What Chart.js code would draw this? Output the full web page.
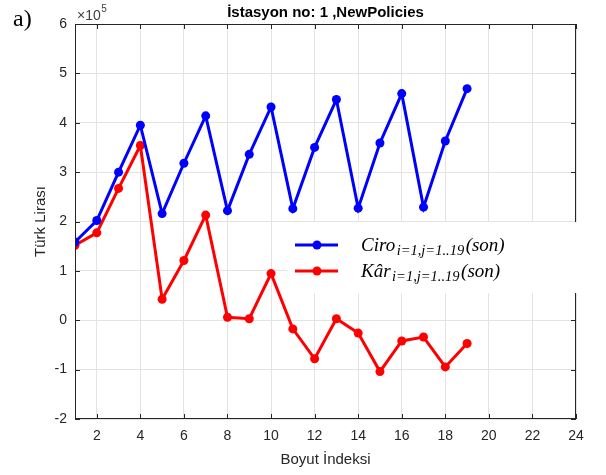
<!DOCTYPE html>
<html lang="tr">
<head>
    <meta charset="UTF-8">
    <title>İstasyon no: 1 ,NewPolicies</title>
    <style>
        * {
            margin: 0;
            padding: 0;
            box-sizing: border-box;
        }

        body {
            background: #fff;
        }

        .chart-box {
            position: relative;
            width: 606px;
            height: 475px;
        }
    </style>
</head>
<body>
    <div class="chart-box">
        <canvas id="stationChart"></canvas>
    </div>

    <script src="https://cdn.jsdelivr.net/npm/chart.js"></script>
    <script>
        // Boyut indeksleri ve seriler (TL)
        var indices = [1, 2, 3, 4, 5, 6, 7, 8, 9, 10, 11, 12, 13, 14, 15, 16, 17, 18, 19];
        var ciro = [158500, 202000, 300000, 395000, 216000, 318000, 414000, 222000, 336000, 432000,
                    226000, 350000, 447000, 227000, 359000, 459000, 229000, 363000, 469000];
        var kar = [152000, 177000, 267000, 354000, 42500, 121000, 213000, 6000, 3000, 94500,
                   -17500, -78000, 3000, -26000, -104000, -42000, -34000, -94500, -47000];
        var xTicks = [2, 4, 6, 8, 10, 12, 14, 16, 18, 20, 22, 24];
        var yTicks = [-200000, -100000, 0, 100000, 200000, 300000, 400000, 500000, 600000];

        var axisColor = '#262626';
        var gridColor = '#e3e3e3';

        function toPoints(values) {
            return values.map(function (v, i) { return { x: indices[i], y: v }; });
        }

        // Çerçeve, içe dönük tik çizgileri, başlık ve açıklama kutusu
        var decorations = {
            id: 'decorations',
            afterDraw: function (chart) {
                var ctx = chart.ctx;
                var a = chart.chartArea;
                var xs = chart.scales.x, ys = chart.scales.y;
                var tick = 5;

                ctx.save();
                ctx.strokeStyle = axisColor;
                ctx.lineWidth = 1;
                ctx.strokeRect(a.left + 0.5, a.top + 0.5, a.right - a.left - 1, a.bottom - a.top - 1);

                ctx.beginPath();
                xTicks.forEach(function (t) {
                    var px = Math.round(xs.getPixelForValue(t)) + 0.5;
                    ctx.moveTo(px, a.bottom); ctx.lineTo(px, a.bottom - tick);
                    ctx.moveTo(px, a.top); ctx.lineTo(px, a.top + tick);
                });
                yTicks.forEach(function (t) {
                    var py = Math.round(ys.getPixelForValue(t)) + 0.5;
                    ctx.moveTo(a.left, py); ctx.lineTo(a.left + tick, py);
                    ctx.moveTo(a.right, py); ctx.lineTo(a.right - tick, py);
                });
                ctx.stroke();

                // başlık
                ctx.fillStyle = '#000';
                ctx.font = 'bold 15px "Liberation Sans", Arial, sans-serif';
                ctx.textAlign = 'center';
                ctx.textBaseline = 'alphabetic';
                ctx.fillText('İstasyon no: 1 ,NewPolicies', (a.left + a.right) / 2, 17);

                // panel etiketi
                ctx.textAlign = 'left';
                ctx.font = '24px "Liberation Serif", "Times New Roman", serif';
                ctx.fillText('a)', 13, 26);

                // üs çarpanı
                ctx.fillStyle = '#404040';
                ctx.font = '14px "Liberation Sans", Arial, sans-serif';
                ctx.fillText('×10', a.left + 2, 20);
                var expX = a.left + 2 + ctx.measureText('×10').width + 0.5;
                ctx.font = '10px "Liberation Sans", Arial, sans-serif';
                ctx.fillText('5', expX, 12);

                // açıklama kutusu
                ctx.fillStyle = '#fff';
                ctx.fillRect(287, 222, 300, 71);

                var rows = [
                    { color: '#0000ff', y: 245, main: 'Ciro', base: 251 },
                    { color: '#ff0000', y: 271, main: 'Kâr', base: 277 }
                ];
                rows.forEach(function (r) {
                    ctx.strokeStyle = r.color;
                    ctx.lineWidth = 3;
                    ctx.beginPath();
                    ctx.moveTo(295, r.y); ctx.lineTo(338, r.y);
                    ctx.stroke();
                    ctx.fillStyle = r.color;
                    ctx.beginPath();
                    ctx.arc(317, r.y, 4.5, 0, Math.PI * 2);
                    ctx.fill();

                    ctx.fillStyle = '#000';
                    var x = 361;
                    ctx.font = 'italic 19px "Liberation Serif", serif';
                    ctx.fillText(r.main, x, r.base);
                    x += ctx.measureText(r.main).width + 1.5;
                    ctx.font = 'italic 14.5px "Liberation Serif", serif';
                    var sub = 'i=1,j=1..19';
                    ctx.fillText(sub, x, r.base + 4);
                    x += ctx.measureText(sub).width + 1.5;
                    ctx.font = 'italic 19px "Liberation Serif", serif';
                    ctx.fillText('(son)', x, r.base);
                });
                ctx.restore();
            }
        };

        var ctxStation = document.getElementById('stationChart').getContext('2d');
        var stationChart = new Chart(ctxStation, {
            type: 'line',
            data: {
                datasets: [{
                    label: 'Ciro',
                    data: toPoints(ciro),
                    borderColor: '#0000ff',
                    backgroundColor: '#0000ff',
                    borderWidth: 3,
                    pointRadius: 4.5,
                    pointBorderWidth: 0,
                    tension: 0
                }, {
                    label: 'Kâr',
                    data: toPoints(kar),
                    borderColor: '#ff0000',
                    backgroundColor: '#ff0000',
                    borderWidth: 3,
                    pointRadius: 4.5,
                    pointBorderWidth: 0,
                    tension: 0
                }]
            },
            options: {
                responsive: true,
                maintainAspectRatio: false,
                animation: false,
                layout: {
                    padding: { top: 24, right: 30, left: 0, bottom: 0 }
                },
                plugins: {
                    legend: { display: false },
                    title: { display: false },
                    tooltip: { enabled: false }
                },
                scales: {
                    x: {
                        type: 'linear',
                        min: 1,
                        max: 24,
                        afterBuildTicks: function (scale) {
                            scale.ticks = xTicks.map(function (v) { return { value: v }; });
                        },
                        afterFit: function (scale) { scale.height = 56; },
                        grid: { color: gridColor, drawTicks: false },
                        border: { display: false },
                        ticks: {
                            padding: 9,
                            color: axisColor,
                            font: { family: '"Liberation Sans", Arial, sans-serif', size: 14 },
                            maxRotation: 0
                        },
                        title: {
                            display: true,
                            text: 'Boyut İndeksi',
                            color: axisColor,
                            font: { family: '"Liberation Sans", Arial, sans-serif', size: 15 },
                            padding: { top: 0, bottom: 6 }
                        }
                    },
                    y: {
                        min: -200000,
                        max: 600000,
                        afterBuildTicks: function (scale) {
                            scale.ticks = yTicks.map(function (v) { return { value: v }; });
                        },
                        afterFit: function (scale) { scale.width = 75; },
                        grid: { color: gridColor, drawTicks: false },
                        border: { display: false },
                        ticks: {
                            padding: 8,
                            color: axisColor,
                            font: { family: '"Liberation Sans", Arial, sans-serif', size: 14 },
                            callback: function (v) { return String(v / 100000); }
                        },
                        title: {
                            display: true,
                            text: 'Türk Lirası',
                            color: axisColor,
                            font: { family: '"Liberation Sans", Arial, sans-serif', size: 15 },
                            padding: { top: 32, bottom: 0 }
                        }
                    }
                }
            },
            plugins: [decorations]
        });
    </script>
</body>
</html>
